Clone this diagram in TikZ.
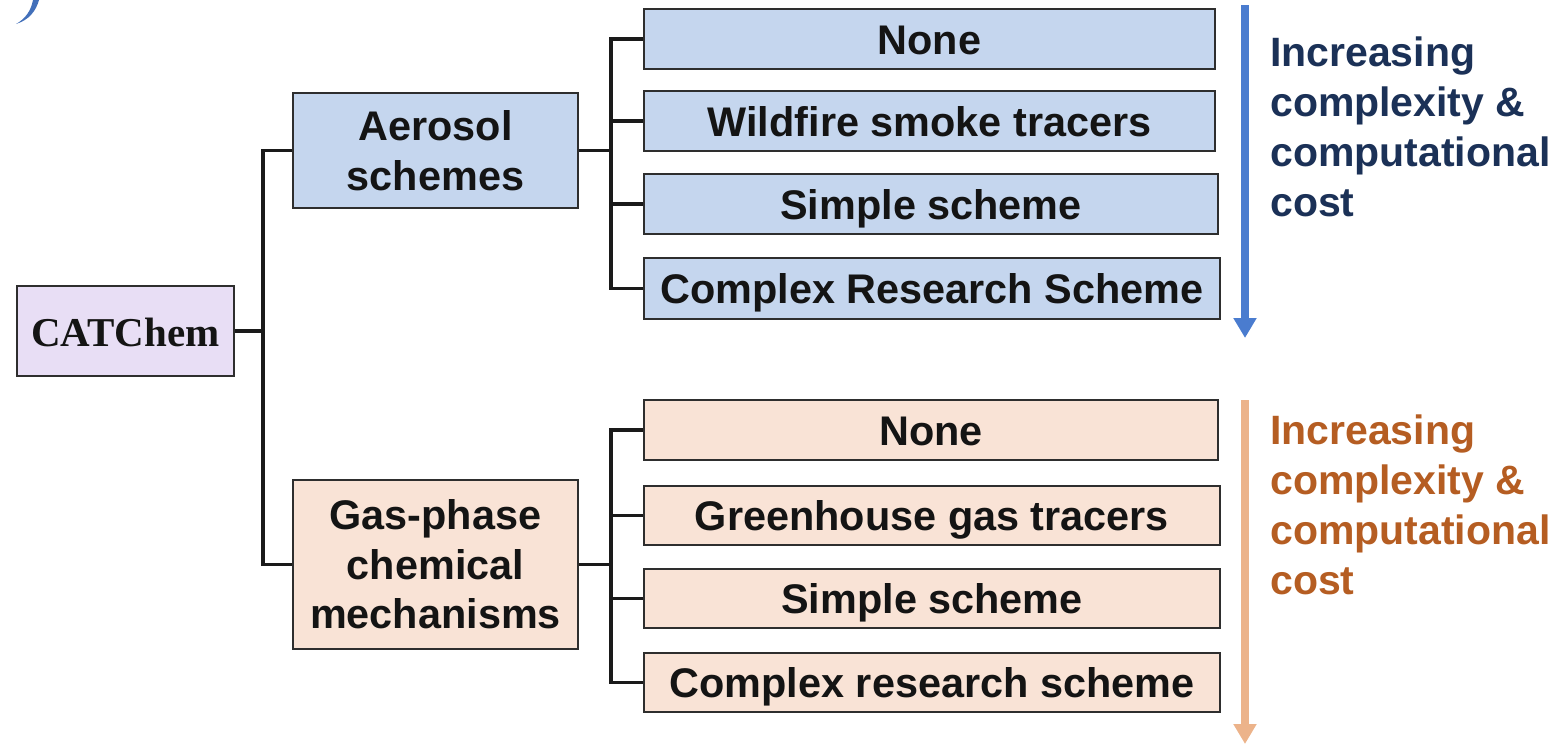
\documentclass[tikz,border=0pt]{standalone}
\usepackage{fontspec}
\setmainfont{Liberation Sans}
\newfontfamily\timesbold{Liberation Serif}
\usetikzlibrary{arrows.meta}
\definecolor{aerfill}{HTML}{C5D6EE}
\definecolor{gasfill}{HTML}{F9E3D6}
\definecolor{catfill}{HTML}{E8DEF5}
\definecolor{boxline}{HTML}{2E2E2E}
\definecolor{conn}{HTML}{1A1A1A}
\definecolor{navytext}{HTML}{1B3157}
\definecolor{rusttext}{HTML}{B55D22}
\definecolor{bluearrow}{HTML}{4A7CCF}
\definecolor{orangearrow}{HTML}{ECB38A}
\tikzset{
  box/.style={draw=boxline, line width=2pt, inner sep=0pt, align=center,
    font=\fontsize{41.4}{49.5}\selectfont\bfseries, text=black!92},
  aerbox/.style={box, fill=aerfill},
  gasbox/.style={box, fill=gasfill},
  oneline/.style={text height=30pt, text depth=0pt},
  connector/.style={draw=conn, line width=3.8pt},
  sidetext/.style={inner sep=0pt, align=left, anchor=north west,
    font=\fontsize{41}{50}\selectfont\bfseries},
  bigarrow/.style={line width=8pt, -{Triangle[width=22pt,length=20pt]}},
}
\begin{document}
\begin{tikzpicture}[x=1pt,y=-1pt]
\useasboundingbox (0,0) rectangle (1567,744);
% cropped fragment at top left
\fill[bluearrow!90!black] (33,0) .. controls (31,11) and (25,19) .. (16,24)
  .. controls (29,20) and (36,11) .. (39,0) -- cycle;
% main nodes
\node[box, oneline, fill=catfill, minimum width=217pt, minimum height=90pt,
  font=\fontsize{41}{49}\selectfont\timesbold\bfseries] (cat) at (125.5,331) {CATChem};
\node[aerbox, minimum width=285pt, minimum height=115pt] (aer) at (435.5,150.5) {Aerosol\\schemes};
\node[gasbox, minimum width=285pt, minimum height=169pt] (gas) at (435.5,564.5) {Gas-phase\\chemical\\mechanisms};
% aerosol options
\node[aerbox, oneline, minimum width=571pt, minimum height=60pt] (a1) at (929.5,39) {None};
\node[aerbox, oneline, minimum width=571pt, minimum height=60pt] (a2) at (929.5,121) {Wildfire smoke tracers};
\node[aerbox, oneline, minimum width=574pt, minimum height=60pt] (a3) at (931,204) {Simple scheme};
\node[aerbox, oneline, minimum width=576pt, minimum height=61pt] (a4) at (932,288.5) {Complex Research Scheme};
% gas options
\node[gasbox, oneline, minimum width=574pt, minimum height=60pt] (g1) at (931,430) {None};
\node[gasbox, oneline, minimum width=576pt, minimum height=59pt] (g2) at (932,515.5) {Greenhouse gas tracers};
\node[gasbox, oneline, minimum width=576pt, minimum height=59pt] (g3) at (932,598.5) {Simple scheme};
\node[gasbox, oneline, minimum width=576pt, minimum height=59pt] (g4) at (932,682.5) {Complex research scheme};
% connectors
\draw[connector] (cat.east) -- ++(28,0) |- (aer.west);
\draw[connector] (cat.east) -- ++(28,0) |- (gas.west);
\foreach \n in {a1,a2,a3,a4}{
  \draw[connector] (aer.east) -- ++(32,0) |- (\n.west);
}
\foreach \n in {g1,g2,g3,g4}{
  \draw[connector] (gas.east) -- ++(32,0) |- (\n.west);
}
% arrows
\coordinate (bstart) at (1245,5);
\coordinate (bend) at (1245,338);
\coordinate (ostart) at (1245,400);
\coordinate (oend) at (1245,744);
\draw[bigarrow, bluearrow] (bstart) -- (bend);
\draw[bigarrow, orangearrow] (ostart) -- (oend);
% side labels
\node[sidetext, text=navytext] (bluelabel) at (1270,37) {Increasing\\complexity \&\\computational\\cost};
\node[sidetext, text=rusttext] (orangelabel) at (1270,415) {Increasing\\complexity \&\\computational\\cost};
\end{tikzpicture}
\end{document}
